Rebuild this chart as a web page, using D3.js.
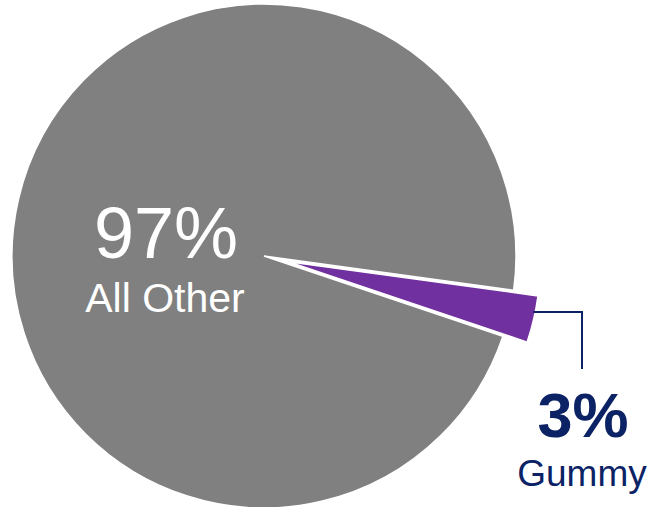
<!DOCTYPE html>
<html><head><meta charset="utf-8">
<script src="https://cdn.jsdelivr.net/npm/d3@7"></script>
<style>html,body{margin:0;padding:0;background:#fff;}</style>
</head><body>
<svg id="chart" width="650" height="507"></svg>
<script>
const categories = ["Gummy", "All Other"];
const values = [3, 97];
const labels = ["3%", "97%"];
const colors = ["#7030A0", "#808080"];

const svg = d3.select("#chart");
const cx = 264, cy = 256, R = 252;
const startDeg = 97.8;
const pie = d3.pie().sort(null).value(d => d)
  .startAngle(startDeg * Math.PI / 180)
  .endAngle(startDeg * Math.PI / 180 + 2 * Math.PI);
const arcs = pie(values);
const arc = d3.arc().innerRadius(0).outerRadius(R);
const explode = [25, 0];

const g = svg.append("g").attr("transform", `translate(${cx},${cy})`);
[1, 0].forEach(i => {
  const a = arcs[i];
  const mid = (a.startAngle + a.endAngle) / 2;
  const dx = explode[i] * Math.sin(mid), dy = -explode[i] * Math.cos(mid);
  g.append("path")
    .attr("d", arc(a))
    .attr("transform", `translate(${dx},${dy})`)
    .attr("fill", colors[i])
    .attr("stroke", "#fff")
    .attr("stroke-width", 1.5)
    .attr("stroke-linejoin", "miter");
});

g.append("text").attr("x", 166 - cx).attr("y", 258 - cy)
  .attr("text-anchor", "middle").attr("fill", "#fff")
  .style("font-family", "Liberation Sans, Arial, sans-serif").style("font-size", "72px")
  .text(labels[1]);
g.append("text").attr("x", 165 - cx).attr("y", 312 - cy)
  .attr("text-anchor", "middle").attr("fill", "#fff")
  .style("font-family", "Liberation Sans, Arial, sans-serif").style("font-size", "41px")
  .text(categories[1]);

const a0 = arcs[0];
const mid0 = (a0.startAngle + a0.endAngle) / 2;
const ex = explode[0] * Math.sin(mid0), ey = -explode[0] * Math.cos(mid0);
const lineY = 312 - cy;
const sy = lineY - ey;
const sx = Math.sqrt(R * R - sy * sy) + ex;
const lx = 582 - cx, ly = 369 - cy;
g.append("path")
  .attr("d", `M${sx - 2},${lineY} H${lx} V${ly}`)
  .attr("fill", "none").attr("stroke", "#0B2265").attr("stroke-width", 2);

g.append("text").attr("x", 583 - cx).attr("y", 437 - cy)
  .attr("text-anchor", "middle").attr("fill", "#0B2265")
  .style("font-family", "Liberation Sans, Arial, sans-serif").style("font-size", "63px")
  .style("font-weight", "bold")
  .text(labels[0]);
g.append("text").attr("x", 582 - cx).attr("y", 486 - cy)
  .attr("text-anchor", "middle").attr("fill", "#0B2265")
  .style("font-family", "Liberation Sans, Arial, sans-serif").style("font-size", "37px")
  .text(categories[0]);
</script>
</body></html>
